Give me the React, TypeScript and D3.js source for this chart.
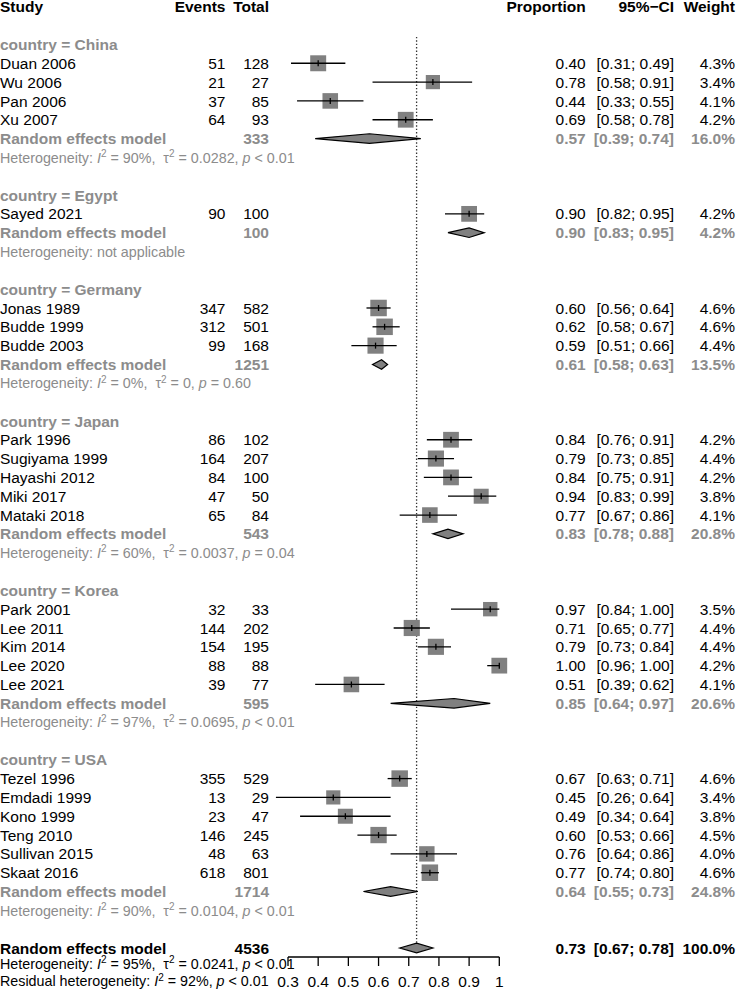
import React from "react";
import * as d3 from "d3";

// ---- data ----
const groups = ["China", "Egypt", "Germany", "Japan", "Korea", "USA"];

const studyNames = [
  "Duan 2006", "Wu 2006", "Pan 2006", "Xu 2007",
  "Sayed 2021",
  "Jonas 1989", "Budde 1999", "Budde 2003",
  "Park 1996", "Sugiyama 1999", "Hayashi 2012", "Miki 2017", "Mataki 2018",
  "Park 2001", "Lee 2011", "Kim 2014", "Lee 2020", "Lee 2021",
  "Tezel 1996", "Emdadi 1999", "Kono 1999", "Teng 2010", "Sullivan 2015", "Skaat 2016",
];
const studyGroup = [
  "China", "China", "China", "China",
  "Egypt",
  "Germany", "Germany", "Germany",
  "Japan", "Japan", "Japan", "Japan", "Japan",
  "Korea", "Korea", "Korea", "Korea", "Korea",
  "USA", "USA", "USA", "USA", "USA", "USA",
];
const events = [51, 21, 37, 64, 90, 347, 312, 99, 86, 164, 84, 47, 65, 32, 144, 154, 88, 39, 355, 13, 23, 146, 48, 618];
const totals = [128, 27, 85, 93, 100, 582, 501, 168, 102, 207, 100, 50, 84, 33, 202, 195, 88, 77, 529, 29, 47, 245, 63, 801];
const proportions = [0.40, 0.78, 0.44, 0.69, 0.90, 0.60, 0.62, 0.59, 0.84, 0.79, 0.84, 0.94, 0.77, 0.97, 0.71, 0.79, 1.00, 0.51, 0.67, 0.45, 0.49, 0.60, 0.76, 0.77];
const lowerCI = [0.31, 0.58, 0.33, 0.58, 0.82, 0.56, 0.58, 0.51, 0.76, 0.73, 0.75, 0.83, 0.67, 0.84, 0.65, 0.73, 0.96, 0.39, 0.63, 0.26, 0.34, 0.53, 0.64, 0.74];
const upperCI = [0.49, 0.91, 0.55, 0.78, 0.95, 0.64, 0.67, 0.66, 0.91, 0.85, 0.91, 0.99, 0.86, 1.00, 0.77, 0.84, 1.00, 0.62, 0.71, 0.64, 0.64, 0.66, 0.86, 0.80];
const weights = [4.3, 3.4, 4.1, 4.2, 4.2, 4.6, 4.6, 4.4, 4.2, 4.4, 4.2, 3.8, 4.1, 3.5, 4.4, 4.4, 4.2, 4.1, 4.6, 3.4, 3.8, 4.5, 4.0, 4.6];

const subTotals = [333, 100, 1251, 543, 595, 1714];
const subEst = [0.57, 0.90, 0.61, 0.83, 0.85, 0.64];
const subLower = [0.39, 0.83, 0.58, 0.78, 0.64, 0.55];
const subUpper = [0.74, 0.95, 0.63, 0.88, 0.97, 0.73];
const subWeight = [16.0, 4.2, 13.5, 20.8, 20.6, 24.8];
const subI2 = ["90%", null, "0%", "60%", "97%", "90%"];
const subTau2 = ["0.0282", null, "0", "0.0037", "0.0695", "0.0104"];
const subP = ["< 0.01", null, "= 0.60", "= 0.04", "< 0.01", "< 0.01"];

const overallTotal = 4536;
const overallEst = 0.726;
const overallLower = 0.67;
const overallUpper = 0.78;
const overallI2 = "95%";
const overallTau2 = "0.0241";
const overallP = "< 0.01";
const residualI2 = "92%";
const residualP = "< 0.01";

const axisTicks = [0.3, 0.4, 0.5, 0.6, 0.7, 0.8, 0.9, 1];

// ---- layout ----
const W = 736;
const H = 994;
const FONT = "'Liberation Sans', Arial, Helvetica, sans-serif";
const FS = 15.5;
const FS_HET = 14.3;
const GRAY = "#8c8c8c";
const SQUARE = "#808080";

const col = {
  study: 0,
  events: 225.5,
  total: 269,
  prop: 585.7,
  ci: 674,
  weight: 735,
};

const x = d3.scaleLinear().domain([0.3, 1]).range([288, 499.3]);
const y = d3.scaleLinear().domain([0, 50]).range([6.8, 948]);
const size = d3.scaleSqrt().domain([0, 4.6]).range([0, 16.5]);
const f2 = d3.format(".2f");
const f1 = (v: number) => d3.format(".1f")(v) + "%";
const base = (cy: number, fs = FS) => cy + fs * 0.36;

type Row =
  | { kind: "group"; row: number; g: number }
  | { kind: "study"; row: number; i: number }
  | { kind: "re"; row: number; g: number }
  | { kind: "het"; row: number; g: number };

const rows: Row[] = [];
{
  let r = 2;
  groups.forEach((name, g) => {
    rows.push({ kind: "group", row: r++, g });
    studyGroup.forEach((sg, i) => {
      if (sg === name) rows.push({ kind: "study", row: r++, i });
    });
    rows.push({ kind: "re", row: r++, g });
    rows.push({ kind: "het", row: r++, g });
    r++;
  });
}
const overallRow = 50;

const Het: React.FC<{
  cy: number;
  fill: string;
  label: string;
  i2: string | null;
  tau2: string | null;
  p: string | null;
}> = ({ cy, fill, label, i2, tau2, p }) => {
  const b = base(cy, FS_HET);
  if (i2 === null) {
    return (
      <text x={col.study} y={b} fontSize={FS_HET} fill={fill}>
        {label}not applicable
      </text>
    );
  }
  return (
    <text x={col.study} y={b} fontSize={FS_HET} fill={fill} style={{ whiteSpace: "pre" }}>
      {label}
      <tspan fontStyle="italic">I</tspan>
      <tspan dy={-5.5} fontSize={FS_HET * 0.7}>2</tspan>
      <tspan dy={5.5}>{` = ${i2}, `}</tspan>
      {tau2 !== null && (
        <>
          <tspan>{` \u03c4`}</tspan>
          <tspan dy={-5.5} fontSize={FS_HET * 0.7}>2</tspan>
          <tspan dy={5.5}>{` = ${tau2}, `}</tspan>
        </>
      )}
      <tspan fontStyle="italic">p</tspan>
      <tspan>{` ${p}`}</tspan>
    </text>
  );
};

const Diamond: React.FC<{ cy: number; est: number; lo: number; hi: number }> = ({ cy, est, lo, hi }) => {
  const h = 4.8;
  const pts: [number, number][] = [
    [x(lo), cy],
    [x(est), cy - h],
    [x(hi), cy],
    [x(est), cy + h],
  ];
  return (
    <path
      d={(d3.line()(pts) as string) + "Z"}
      fill={SQUARE}
      stroke="#000"
      strokeWidth={1.2}
    />
  );
};

const App: React.FC = () => {
  const rowH = y(1) - y(0);
  const yo = y(overallRow);
  const axisY = yo + 9;
  const hetY = yo + 15.5;
  const resY = yo + 33;
  const tickLabelY = yo + 33;

  return (
    <svg
      width={W}
      height={H}
      style={{ position: "absolute", left: 0, top: 0, background: "#fff" }}
      fontFamily={FONT}
      fontSize={FS}
    >
      {/* header */}
      <g fontWeight="bold" fill="#000">
        <text x={col.study} y={base(y(0))}>Study</text>
        <text x={col.events} y={base(y(0))} textAnchor="end">Events</text>
        <text x={col.total} y={base(y(0))} textAnchor="end">Total</text>
        <text x={col.prop} y={base(y(0))} textAnchor="end">Proportion</text>
        <text x={col.ci} y={base(y(0))} textAnchor="end">95%{"\u2212"}CI</text>
        <text x={col.weight} y={base(y(0))} textAnchor="end">Weight</text>
      </g>

      {/* reference line at the overall estimate */}
      <line
        x1={x(overallEst)}
        x2={x(overallEst)}
        y1={y(2) - rowH * 0.4}
        y2={yo - 4}
        stroke="#333"
        strokeWidth={1.3}
        strokeDasharray="1.4 2"
      />

      {rows.map((r, k) => {
        const cy = y(r.row);
        if (r.kind === "group") {
          return (
            <text key={k} x={col.study} y={base(cy)} fontWeight="bold" fill={GRAY}>
              country = {groups[r.g]}
            </text>
          );
        }
        if (r.kind === "study") {
          const i = r.i;
          const s = size(weights[i]);
          return (
            <g key={k}>
              <text x={col.study} y={base(cy)}>{studyNames[i]}</text>
              <text x={col.events} y={base(cy)} textAnchor="end">{events[i]}</text>
              <text x={col.total} y={base(cy)} textAnchor="end">{totals[i]}</text>
              <rect
                x={x(proportions[i]) - s / 2}
                y={cy - s / 2}
                width={s}
                height={s}
                fill={SQUARE}
              />
              <line x1={x(lowerCI[i])} x2={x(upperCI[i])} y1={cy} y2={cy} stroke="#000" strokeWidth={1.3} />
              <line x1={x(proportions[i])} x2={x(proportions[i])} y1={cy - 3} y2={cy + 3} stroke="#000" strokeWidth={1.3} />
              <text x={col.prop} y={base(cy)} textAnchor="end">{f2(proportions[i])}</text>
              <text x={col.ci} y={base(cy)} textAnchor="end" style={{ whiteSpace: "pre" }}>
                [{f2(lowerCI[i])}; {f2(upperCI[i])}]
              </text>
              <text x={col.weight} y={base(cy)} textAnchor="end">{f1(weights[i])}</text>
            </g>
          );
        }
        if (r.kind === "re") {
          const g = r.g;
          return (
            <g key={k} fontWeight="bold" fill={GRAY}>
              <text x={col.study} y={base(cy)}>Random effects model</text>
              <text x={col.total} y={base(cy)} textAnchor="end">{subTotals[g]}</text>
              <Diamond cy={cy} est={subEst[g]} lo={subLower[g]} hi={subUpper[g]} />
              <text x={col.prop} y={base(cy)} textAnchor="end">{f2(subEst[g])}</text>
              <text x={col.ci} y={base(cy)} textAnchor="end">
                [{f2(subLower[g])}; {f2(subUpper[g])}]
              </text>
              <text x={col.weight} y={base(cy)} textAnchor="end">{f1(subWeight[g])}</text>
            </g>
          );
        }
        return (
          <Het
            key={k}
            cy={cy}
            fill={GRAY}
            label="Heterogeneity: "
            i2={subI2[r.g]}
            tau2={subTau2[r.g]}
            p={subP[r.g]}
          />
        );
      })}

      {/* overall */}
      <g fontWeight="bold" fill="#000">
        <text x={col.study} y={base(yo)}>Random effects model</text>
        <text x={col.total} y={base(yo)} textAnchor="end">{overallTotal}</text>
        <text x={col.prop} y={base(yo)} textAnchor="end">{f2(overallEst)}</text>
        <text x={col.ci} y={base(yo)} textAnchor="end">
          [{f2(overallLower)}; {f2(overallUpper)}]
        </text>
        <text x={col.weight} y={base(yo)} textAnchor="end">100.0%</text>
      </g>
      <Diamond cy={yo} est={overallEst} lo={overallLower} hi={overallUpper} />

      <Het cy={hetY} fill="#000" label="Heterogeneity: " i2={overallI2} tau2={overallTau2} p={overallP} />
      <Het cy={resY} fill="#000" label="Residual heterogeneity: " i2={residualI2} tau2={null} p={residualP} />

      {/* x axis */}
      <g stroke="#000" strokeWidth={1.3}>
        <line x1={x(axisTicks[0])} x2={x(axisTicks[axisTicks.length - 1])} y1={axisY} y2={axisY} />
        {axisTicks.map((t) => (
          <line key={t} x1={x(t)} x2={x(t)} y1={axisY} y2={axisY + 9} />
        ))}
      </g>
      {axisTicks.map((t) => (
        <text key={t} x={x(t)} y={base(tickLabelY)} textAnchor="middle">
          {d3.format("~g")(t)}
        </text>
      ))}
    </svg>
  );
};

export default App;
